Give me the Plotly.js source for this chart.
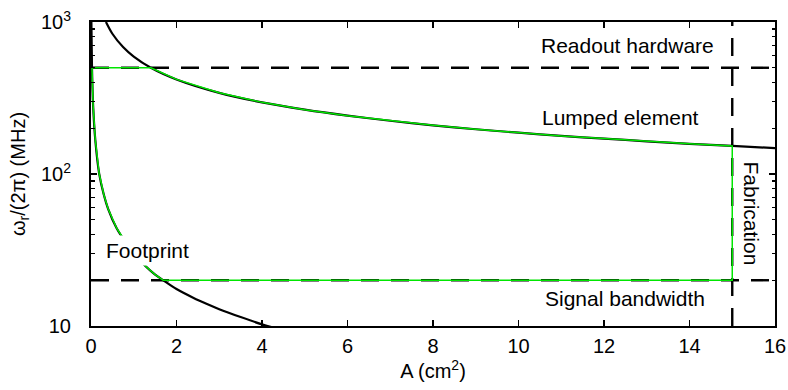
<!DOCTYPE html>
<html>
<head>
<meta charset="utf-8">
<script src="https://cdn.plot.ly/plotly-3.0.1.min.js"></script>
<style>html,body{margin:0;padding:0;background:#fff}#plot{width:788px;height:390px}</style>
</head>
<body>
<div id="plot"></div>
<script>
// Lumped element constraint (A in cm^2, frequency in MHz)
const lumpedA   = [0.35, 0.5, 0.75, 1.0, 1.4, 2, 3, 4, 5, 6, 7, 8, 9, 10, 11, 12, 13, 14, 15, 16];
const lumpedF   = [1000, 837, 684, 592, 500, 419, 342, 296, 265, 242, 224, 209, 197, 187, 178, 171, 164, 158, 153, 148];
// Footprint constraint
const footA     = [0.009, 0.023, 0.05, 0.1, 0.19, 0.3, 0.4, 0.6, 0.8, 1.0, 1.26, 1.5, 1.69, 2.0, 2.4, 2.7, 3.0, 3.5, 4.0, 4.3];
const footF     = [1000, 500, 280, 168, 101, 73, 59, 44, 36, 30.5, 25, 21.8, 20, 17.5, 15.3, 14.0, 12.9, 11.45, 10.25, 9.7];
// Limits
const readoutF   = 500;   // Readout hardware
const bandwidthF = 20;    // Signal bandwidth
const fabA       = 15;    // Fabrication
const xRange = [0, 16];
const yRange = [10, 1000];
const yTickVals = [10, 100, 1000];
const yTickText = ['10', '10<sup>2</sup>', '10<sup>3</sup>'];
const yMinorVals = [20,30,40,50,60,70,80,90,200,300,400,500,600,700,800,900];

// Feasible region boundary (green)
const upperA = [], upperF = [];
lumpedA.forEach((a, i) => { if (lumpedF[i] <= readoutF && a <= fabA) { upperA.push(a); upperF.push(lumpedF[i]); } });
const leftA = [], leftF = [];
footA.forEach((a, i) => { if (footF[i] <= readoutF && footF[i] >= bandwidthF) { leftA.push(a); leftF.push(footF[i]); } });
const greenA = [leftA[0]].concat(upperA, [fabA, fabA], leftA.slice().reverse());
const greenF = [readoutF].concat(upperF, [upperF[upperF.length-1], bandwidthF], leftF.slice().reverse());

const blk = {color: 'black', width: 2.2};
const dash = {color: 'black', width: 2.4, dash: '18px,12px'};
const traces = [
  {x: xRange, y: [readoutF, readoutF], mode: 'lines', line: dash},
  {x: xRange, y: [bandwidthF, bandwidthF], mode: 'lines', line: dash},
  {x: [fabA, fabA], y: yRange, mode: 'lines', line: dash},
  {x: lumpedA, y: lumpedF, mode: 'lines', line: Object.assign({shape: 'spline', smoothing: 0.8}, blk)},
  {x: footA, y: footF, mode: 'lines', line: Object.assign({shape: 'spline', smoothing: 0.8}, blk)},
  {x: greenA, y: greenF, mode: 'lines', line: {color: '#00e600', width: 1.5}}
];

const font = {family: 'Liberation Sans, Arial, sans-serif', size: 21, color: 'black'};
const tickFont = {family: 'Liberation Sans, Arial, sans-serif', size: 20, color: 'black'};
const ann = (text, x, y, extra) => Object.assign({text: text, xref: 'paper', yref: 'paper', x: x, y: y,
  xanchor: 'center', yanchor: 'middle', showarrow: false, font: font}, extra || {});
const layout = {
  width: 788, height: 390,
  margin: {l: 91, r: 13, t: 22, b: 64},
  paper_bgcolor: 'white', plot_bgcolor: 'white',
  showlegend: false,
  font: tickFont,
  xaxis: {
    range: xRange, dtick: 2, tick0: 0, tickmode: 'linear', tickfont: tickFont,
    ticks: 'inside', ticklen: 6, tickwidth: 1.5, tickcolor: 'black',
    showline: true, linewidth: 2, linecolor: 'black', mirror: 'allticks',
    showgrid: false, zeroline: false,
    title: {text: 'A (cm<sup>2</sup>)', font: tickFont, standoff: 2},
    ticklabelstandoff: 1
  },
  yaxis: {
    type: 'log', range: [1, 3], tickfont: tickFont,
    tickmode: 'array', tickvals: yTickVals, ticktext: yTickText,
    ticks: 'inside', ticklen: 6, tickwidth: 1.5, tickcolor: 'black',
    minor: {tickmode: 'array', tickvals: yMinorVals, ticks: 'inside', ticklen: 3.5, tickwidth: 1.2, tickcolor: 'black', showgrid: false},
    showline: true, linewidth: 2, linecolor: 'black', mirror: 'allticks',
    showgrid: false, zeroline: false,
    title: {text: 'ω<sub>r</sub>/(2π) (MHz)', font: tickFont, standoff: 10},
    ticklabelstandoff: 14
  },
  annotations: [
    ann('Readout hardware', 0.784, 0.924),
    ann('Lumped element', 0.774, 0.6875),
    ann('Footprint', 0.082, 0.247, {bgcolor: 'white', borderpad: 3}),
    ann('Signal bandwidth', 0.781, 0.089),
    ann('Fabrication', 0.965, 0.37, {textangle: 90})
  ]
};
Plotly.newPlot('plot', traces, layout, {displayModeBar: false, staticPlot: true});
</script>
</body>
</html>
